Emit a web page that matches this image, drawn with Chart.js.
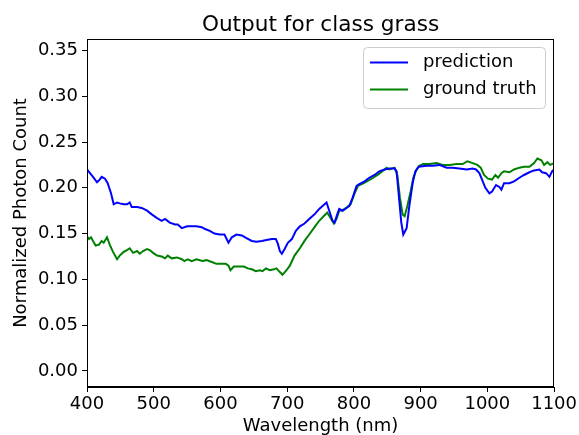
<!DOCTYPE html>
<html lang="en">
<head>
  <meta charset="UTF-8">
  <title>Output for class grass</title>
  <script src="https://cdn.jsdelivr.net/npm/chart.js"></script>
  <style>
    html, body { margin: 0; padding: 0; background: #ffffff; }
  </style>
</head>
<body>
  <canvas id="chart" width="579" height="435"></canvas>

  <script>
    // wavelengths (nm) and values
    const predWl = [400, 409, 415, 419, 422, 427, 431, 436, 440, 445, 449, 455, 460, 464, 467, 475, 482, 490, 497, 505,
      512, 517, 524, 532, 536, 542, 550, 557, 564, 572, 577, 584, 591, 599, 606, 612, 617, 624, 632, 639,
      647, 654, 662, 669, 677, 683, 686, 689, 692, 696, 701, 707, 713, 719, 726, 733, 741, 748, 756, 759,
      763, 768, 771, 775, 778, 783, 789, 793, 798, 804, 808, 816, 823, 831, 838, 846, 853, 861, 864, 868,
      871, 874, 879, 883, 888, 892, 897, 909, 918, 928, 939, 948, 958, 969, 978, 983, 988, 992, 997, 1003,
      1007, 1013, 1018, 1021, 1025, 1033, 1040, 1048, 1055, 1063, 1070, 1078, 1082, 1088, 1093, 1097, 1100];
    const predVal = [0.220, 0.212, 0.206, 0.209, 0.212, 0.210, 0.205, 0.194, 0.182, 0.184, 0.183, 0.182, 0.182, 0.184, 0.179, 0.179, 0.178, 0.175, 0.171, 0.167,
      0.164, 0.166, 0.162, 0.160, 0.160, 0.156, 0.158, 0.158, 0.158, 0.157, 0.155, 0.153, 0.150, 0.149, 0.149, 0.140, 0.146, 0.149, 0.148, 0.145,
      0.142, 0.141, 0.142, 0.143, 0.144, 0.144, 0.139, 0.131, 0.128, 0.133, 0.140, 0.144, 0.153, 0.158, 0.161, 0.166, 0.171, 0.177, 0.182, 0.184,
      0.175, 0.164, 0.162, 0.171, 0.177, 0.175, 0.178, 0.180, 0.189, 0.202, 0.204, 0.207, 0.211, 0.214, 0.218, 0.220, 0.221, 0.221, 0.218, 0.186,
      0.162, 0.149, 0.156, 0.180, 0.205, 0.218, 0.223, 0.224, 0.224, 0.225, 0.222, 0.222, 0.221, 0.220, 0.221, 0.220, 0.216, 0.209, 0.200, 0.194,
      0.196, 0.203, 0.201, 0.198, 0.205, 0.205, 0.207, 0.211, 0.214, 0.217, 0.219, 0.220, 0.217, 0.216, 0.212, 0.218, 0.220];

    const truthWl = [400, 403, 406, 409, 413, 418, 422, 425, 430, 434, 439, 445, 449, 455, 460, 464, 469, 475, 479, 484,
      490, 494, 499, 505, 512, 517, 521, 527, 535, 542, 546, 551, 557, 564, 573, 579, 587, 594, 602, 608,
      612, 615, 620, 627, 635, 641, 647, 653, 659, 663, 668, 674, 680, 684, 689, 693, 699, 704, 711, 719,
      726, 733, 741, 748, 756, 760, 765, 770, 774, 778, 784, 790, 795, 801, 806, 814, 822, 829, 837, 844,
      849, 853, 861, 865, 869, 873, 876, 880, 885, 889, 894, 898, 904, 913, 924, 933, 943, 954, 963, 970,
      978, 985, 990, 995, 1001, 1007, 1012, 1016, 1021, 1025, 1033, 1040, 1048, 1055, 1063, 1070, 1075, 1081, 1085, 1090,
      1094, 1100];
    const truthVal = [0.147, 0.144, 0.146, 0.142, 0.137, 0.138, 0.142, 0.140, 0.146, 0.138, 0.130, 0.122, 0.126, 0.130, 0.132, 0.134, 0.129, 0.131, 0.128, 0.131,
      0.133, 0.132, 0.129, 0.126, 0.125, 0.123, 0.126, 0.123, 0.124, 0.122, 0.120, 0.122, 0.120, 0.122, 0.120, 0.121, 0.119, 0.117, 0.117, 0.117,
      0.115, 0.110, 0.114, 0.114, 0.114, 0.112, 0.111, 0.109, 0.110, 0.109, 0.112, 0.110, 0.111, 0.112, 0.108, 0.105, 0.110, 0.115, 0.126, 0.134,
      0.142, 0.149, 0.157, 0.164, 0.170, 0.173, 0.167, 0.161, 0.166, 0.175, 0.176, 0.179, 0.182, 0.194, 0.202, 0.205, 0.208, 0.211, 0.215, 0.219,
      0.222, 0.220, 0.222, 0.214, 0.189, 0.171, 0.169, 0.180, 0.196, 0.211, 0.220, 0.224, 0.226, 0.226, 0.227, 0.225, 0.225, 0.226, 0.226, 0.229,
      0.227, 0.225, 0.222, 0.214, 0.210, 0.209, 0.214, 0.211, 0.216, 0.218, 0.217, 0.220, 0.222, 0.223, 0.223, 0.227, 0.232, 0.230, 0.225, 0.228,
      0.225, 0.227];

    const xTicks = [400, 500, 600, 700, 800, 900, 1000, 1100];
    const yTicks = [0.00, 0.05, 0.10, 0.15, 0.20, 0.25, 0.30, 0.35];

    const FONT = 'DejaVu Sans';
    Chart.defaults.font.family = FONT;
    Chart.defaults.color = '#000000';

    const toPoints = (xs, ys) => xs.map((x, i) => ({ x: x, y: ys[i] }));

    // title, closed frame and an in-plot legend like matplotlib
    const extras = {
      id: 'extras',
      afterDatasetsDraw(chart) {
        const { ctx, chartArea: a } = chart;
        ctx.save();
        ctx.strokeStyle = '#000000';
        ctx.lineWidth = 1;
        ctx.strokeRect(Math.round(a.left) + 0.5, Math.round(a.top) + 0.5,
          Math.round(a.right - a.left) - 1, Math.round(a.bottom - a.top) - 1);
        ctx.restore();
      },
      afterDraw(chart) {
        const { ctx, chartArea: a } = chart;
        ctx.save();
        ctx.fillStyle = '#000000';
        ctx.font = '21.6px "' + FONT + '"';
        ctx.textAlign = 'center';
        ctx.textBaseline = 'alphabetic';
        ctx.fillText('Output for class grass', (a.left + a.right) / 2, 31);

        // legend box
        const bx = 363, by = 47, bw = 182, bh = 61, r = 4;
        ctx.beginPath();
        ctx.roundRect(bx + 0.5, by + 0.5, bw, bh, r);
        ctx.fillStyle = 'rgba(255,255,255,0.8)';
        ctx.fill();
        ctx.strokeStyle = '#cccccc';
        ctx.lineWidth = 1;
        ctx.stroke();

        ctx.font = '18px "' + FONT + '"';
        ctx.textAlign = 'left';
        ctx.textBaseline = 'middle';
        chart.data.datasets.forEach((ds, i) => {
          const y = 62.5 + i * 27;
          ctx.strokeStyle = ds.borderColor;
          ctx.lineWidth = 2;
          ctx.beginPath();
          ctx.moveTo(370, y);
          ctx.lineTo(408, y);
          ctx.stroke();
          ctx.fillStyle = '#000000';
          ctx.fillText(ds.label, 423, y);
        });
        ctx.restore();
      }
    };

    new Chart(document.getElementById('chart'), {
      type: 'line',
      data: {
        datasets: [
          {
            label: 'prediction',
            data: toPoints(predWl, predVal),
            borderColor: '#0000ff',
            borderWidth: 2,
            pointRadius: 0,
            tension: 0
          },
          {
            label: 'ground truth',
            data: toPoints(truthWl, truthVal),
            borderColor: '#008000',
            borderWidth: 2,
            pointRadius: 0,
            tension: 0
          }
        ]
      },
      options: {
        responsive: false,
        animation: false,
        layout: { padding: { top: 39, right: 24, left: 0, bottom: 0 } },
        plugins: {
          legend: { display: false },
          tooltip: { enabled: false }
        },
        scales: {
          x: {
            type: 'linear',
            min: 400,
            max: 1100,
            afterFit(scale) { scale.height = 48; },
            afterBuildTicks(scale) { scale.ticks = xTicks.map(v => ({ value: v })); },
            grid: { drawOnChartArea: false, color: '#000000', tickLength: 5 },
            border: { color: '#000000', width: 1 },
            ticks: { font: { size: 18 }, padding: 2, maxRotation: 0, callback: v => String(v) },
            title: {
              display: true,
              text: 'Wavelength (nm)',
              font: { size: 18, lineHeight: 1.0 },
              padding: { top: 0, bottom: 0 }
            }
          },
          y: {
            type: 'linear',
            min: -0.0175,
            max: 0.3625,
            afterFit(scale) { scale.width = 87; },
            afterBuildTicks(scale) { scale.ticks = yTicks.map(v => ({ value: v })); },
            grid: { drawOnChartArea: false, color: '#000000', tickLength: 5 },
            border: { color: '#000000', width: 1 },
            ticks: { font: { size: 18 }, padding: 4, callback: v => Number(v).toFixed(2) },
            title: {
              display: true,
              text: 'Normalized Photon Count',
              font: { size: 18 },
              padding: { top: 11, bottom: 0 }
            }
          }
        }
      },
      plugins: [extras]
    });
  </script>
</body>
</html>
